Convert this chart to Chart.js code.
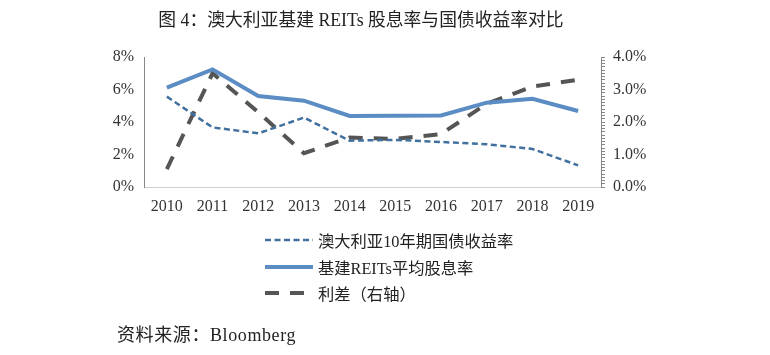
<!DOCTYPE html>
<html><head><meta charset="utf-8">
<script src="https://cdn.jsdelivr.net/npm/chart.js@4/dist/chart.umd.min.js"></script>
<style>
html,body{margin:0;padding:0;background:#fff;}
#wrap{position:relative;width:770px;height:355px;overflow:hidden;font-family:"Liberation Serif","Noto Sans CJK SC",serif;color:#222;}
#c{position:absolute;left:0;top:0;}
#title{position:absolute;left:0;width:722px;top:5px;text-align:center;font-size:17.8px;}
#legend{position:absolute;left:265px;top:227px;font-size:16.3px;}
.row{height:26.5px;display:flex;align-items:center;}
.row svg{margin-right:5px;}
#src{position:absolute;left:117px;top:320px;font-size:18px;letter-spacing:0.6px;}
</style></head><body>
<div id="wrap">
<canvas id="c" width="770" height="355"></canvas>
<div id="title">图 4：澳大利亚基建 REITs 股息率与国债收益率对比</div>
<div id="legend">
 <div class="row"><svg width="48" height="6"><line x1="0" y1="3" x2="48" y2="3" stroke="#41709f" stroke-width="2.5" stroke-dasharray="6 3.5"/></svg>澳大利亚10年期国债收益率</div>
 <div class="row"><svg width="48" height="6"><line x1="0" y1="3" x2="48" y2="3" stroke="#5b8cc4" stroke-width="4"/></svg>基建REITs平均股息率</div>
 <div class="row"><svg width="48" height="6"><line x1="0" y1="3" x2="48" y2="3" stroke="#555" stroke-width="4" stroke-dasharray="14 11"/></svg>利差（右轴）</div>
</div>
<div id="src">资料来源：Bloomberg</div>
</div>
<script>
const years = ['2010','2011','2012','2013','2014','2015','2016','2017','2018','2019'];
const bondYield = [5.56, 3.67, 3.30, 4.27, 2.85, 2.90, 2.77, 2.63, 2.34, 1.33];
const reitYield = [6.11, 7.24, 5.60, 5.31, 4.37, 4.38, 4.40, 5.19, 5.43, 4.68];
const spread = [0.55, 3.50, 2.30, 1.04, 1.52, 1.48, 1.63, 2.56, 3.09, 3.30];
const leftTicks = [0, 2, 4, 6, 8];
const rightTicks = [0, 1, 2, 3, 4];

const tickFont = {family: '"Liberation Serif","Noto Sans CJK SC",serif', size: 16};
new Chart(document.getElementById('c'), {
  type: 'line',
  data: {
    labels: years,
    datasets: [
      {label: '澳大利亚10年期国债收益率', data: bondYield, yAxisID: 'y', borderColor: '#41709f', borderWidth: 2.5, borderDash: [6, 3.5], pointRadius: 0, tension: 0, fill: false},
      {label: '基建REITs平均股息率', data: reitYield, yAxisID: 'y', borderColor: '#5b8cc4', borderWidth: 4, pointRadius: 0, tension: 0, fill: false},
      {label: '利差（右轴）', data: spread, yAxisID: 'y1', borderColor: '#555', borderWidth: 4, borderDash: [14, 11], pointRadius: 0, tension: 0, fill: false}
    ]
  },
  options: {
    responsive: false, animation: false,
    layout: {padding: {left: 0, right: 0, top: 57, bottom: 138}},
    plugins: {legend: {display: false}, tooltip: {enabled: false}, title: {display: false}},
    scales: {
      x: {
        offset: true,
        grid: {display: false, drawTicks: false},
        border: {display: true, color: '#d0d0d0', width: 1},
        ticks: {color: '#333', font: tickFont, padding: 10, maxRotation: 0, autoSkip: false},
        afterFit: s => { s.height = 30; }
      },
      y: {
        position: 'left', min: 0, max: 8,
        afterBuildTicks: s => { s.ticks = leftTicks.map(v => ({value: v})); },
        grid: {display: false, drawTicks: false},
        border: {display: true, color: '#888', width: 1},
        ticks: {color: '#333', font: tickFont, padding: 10, callback: v => v + '%'},
        afterFit: s => { s.width = 144; }
      },
      y1: {
        position: 'right', min: 0, max: 4,
        ticks: {stepSize: 0.1, autoSkip: false, color: '#333', font: tickFont, padding: 8,
          callback: v => { const r = Math.round(v * 10) / 10; return rightTicks.includes(r) ? r.toFixed(1) + '%' : ''; }},
        grid: {drawOnChartArea: false, drawTicks: true, tickLength: 4, color: '#888', tickColor: '#888'},
        border: {display: true, color: '#888', width: 1},
        afterFit: s => { s.width = 169; }
      }
    }
  }
});
</script>
</body></html>
